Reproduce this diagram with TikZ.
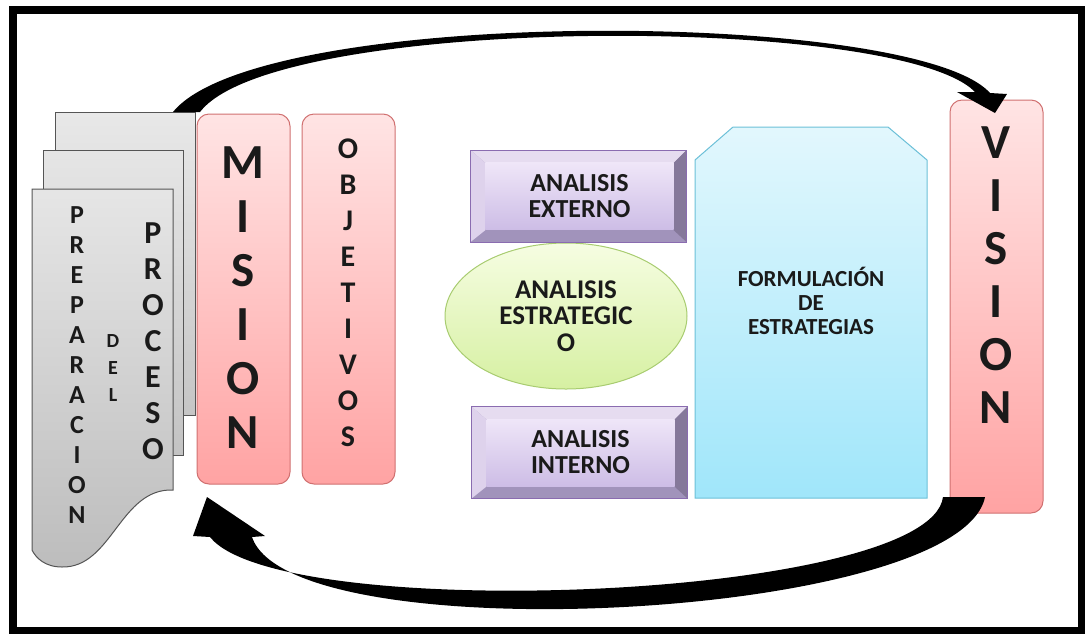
\documentclass[tikz,border=0pt]{standalone}
\usepackage{fontspec}
\setmainfont{Carlito}
\usetikzlibrary{shapes.geometric}

\definecolor{txt}{HTML}{1A1A1A}
\definecolor{sheetline}{HTML}{555555}
\definecolor{bartop}{HTML}{FFE4E4}
\definecolor{barbot}{HTML}{FFA3A3}
\definecolor{barline}{HTML}{D07070}
\definecolor{bevtopc}{HTML}{E6DCF0}
\definecolor{bevleft}{HTML}{DED2EC}
\definecolor{bevright}{HTML}{85789A}
\definecolor{bevbot}{HTML}{A193BB}
\definecolor{bevline}{HTML}{8A6CB0}
\definecolor{bevfacetop}{HTML}{EFE6F8}
\definecolor{bevfacebot}{HTML}{CDBDE6}
\definecolor{ovaltop}{HTML}{F6FDE2}
\definecolor{ovalbot}{HTML}{D6F0A2}
\definecolor{ovalline}{HTML}{A8CC70}
\definecolor{formtop}{HTML}{E2F7FD}
\definecolor{formbot}{HTML}{A0E6FA}
\definecolor{formline}{HTML}{6CC0D8}

% caja biselada: nombre, x, y, texto
\newcommand{\bevelbox}[4]{%
  \begin{scope}[shift={(#2,#3)}]
    \fill[bevbot] (-108,-46) rectangle (108,46);
    \fill[bevtopc] (-108,-46) -- (108,-46) -- (95,-33) -- (-93,-33) -- cycle;
    \fill[bevleft] (-108,-46) -- (-93,-33) -- (-93,34) -- (-108,46) -- cycle;
    \fill[bevright] (108,-46) -- (108,46) -- (95,34) -- (95,-33) -- cycle;
    \draw[bevline,line width=1pt] (-108,-46) rectangle (108,46);
  \end{scope}
  \node[bevface] (#1) at (#2+1,#3) {#4};
}

\begin{document}
\begin{tikzpicture}[x=1pt,y=-1pt,
    sheet/.style={draw=sheetline,line width=1pt,top color=#1,bottom color=#1!85!black,minimum width=140pt,inner sep=0pt},
    redbar/.style={draw=barline,line width=1pt,rounded corners=12pt,top color=bartop,bottom color=barbot,minimum width=93pt,inner sep=0pt},
    letters/.style={align=center,text=txt,inner sep=0pt,font=\bfseries\fontsize{#1}{#1}\selectfont},
    bevface/.style={top color=bevfacetop,bottom color=bevfacebot,minimum width=188pt,minimum height=67pt,inner sep=0pt,
      align=center,text=txt,font=\bfseries\fontsize{26}{26}\selectfont},
    arrowfill/.style={fill=black}]
  \useasboundingbox (0,0) rectangle (1085,633);
  \draw[line width=8pt] (13,10) rectangle (1082,631);

  % hojas
  \node[sheet=white!91!black,minimum height=303pt] (hoja3) at (125,263.5) {};
  \node[sheet=white!90!black,minimum height=305pt] (hoja2) at (113,302.5) {};
  \draw[draw=sheetline,line width=1pt,top color=white!90!black,bottom color=white!74!black]
    (32,189) -- (173,189) -- (173,490) .. controls (120,488) and (112,568) .. (62,567)
    .. controls (45,567) and (36,558) .. (32,550) -- cycle;
  \node[letters={26}] (prep) at (77,365) {P\\[4pt]R\\[4pt]E\\[4pt]P\\[4pt]A\\[4pt]R\\[4pt]A\\[4pt]C\\[4pt]I\\[4pt]O\\[4pt]N};
  \node[letters={20}] (del) at (113,368) {D\\[7pt]E\\[7pt]L};
  \node[letters={32}] (proc) at (153,341) {P\\[4pt]R\\[4pt]O\\[4pt]C\\[4pt]E\\[4pt]S\\[4pt]O};

  % mision y objetivos
  \node[redbar,minimum height=370pt] (mision) at (243.5,299) {};
  \node[letters={49}] (misiontxt) at (243,298) {M\\[5pt]I\\[5pt]S\\[5pt]I\\[5pt]O\\[5pt]N};
  \node[redbar,minimum height=370pt] (objet) at (348.5,299) {};
  \node[letters={30}] (objettxt) at (348,293) {O\\[6pt]B\\[6pt]J\\[6pt]E\\[6pt]T\\[6pt]I\\[6pt]V\\[6pt]O\\[6pt]S};

  % analisis
  \node[ellipse,draw=ovalline,line width=1pt,top color=ovaltop,bottom color=ovalbot,minimum width=242pt,minimum height=146pt,
    inner sep=0pt,align=center,text=txt,font=\bfseries\fontsize{27}{26.5}\selectfont] (estrat) at (566,316) {ANALISIS\\ESTRATEGIC\\O};
  \bevelbox{externo}{578.5}{196}{ANALISIS\\EXTERNO}
  \bevelbox{interno}{579.5}{452.5}{ANALISIS\\INTERNO}

  % formulacion
  \draw[draw=formline,line width=1pt,top color=formtop,bottom color=formbot]
    (695,160) -- (733,127) -- (888,127) -- (927,160) -- (927,498) -- (695,498) -- cycle;
  \node[align=center,text=txt,font=\bfseries\fontsize{23}{24}\selectfont] (formul) at (811,301) {FORMULACIÓN\\DE\\ESTRATEGIAS};

  % vision
  \node[redbar,minimum height=413pt] (vision) at (996.5,306.5) {};
  \node[letters={49}] (visiontxt) at (996,275.5) {V\\[4pt]I\\[4pt]S\\[4pt]I\\[4pt]O\\[4pt]N};

  % flechas
  \fill[arrowfill] (173,112) .. controls (260,5) and (915,9) .. (990,93) -- (1007,94) -- (995,113) -- (957,92) -- (975,92)
    .. controls (900,14) and (275,14) .. (200,112) -- cycle;
  \fill[arrowfill] (985,497) .. controls (960,620) and (291,654) .. (252,537) -- (265,536) -- (207,497) -- (193,536) -- (210,537)
    .. controls (280,625) and (930,600) .. (943,497) -- cycle;
\end{tikzpicture}
\end{document}
